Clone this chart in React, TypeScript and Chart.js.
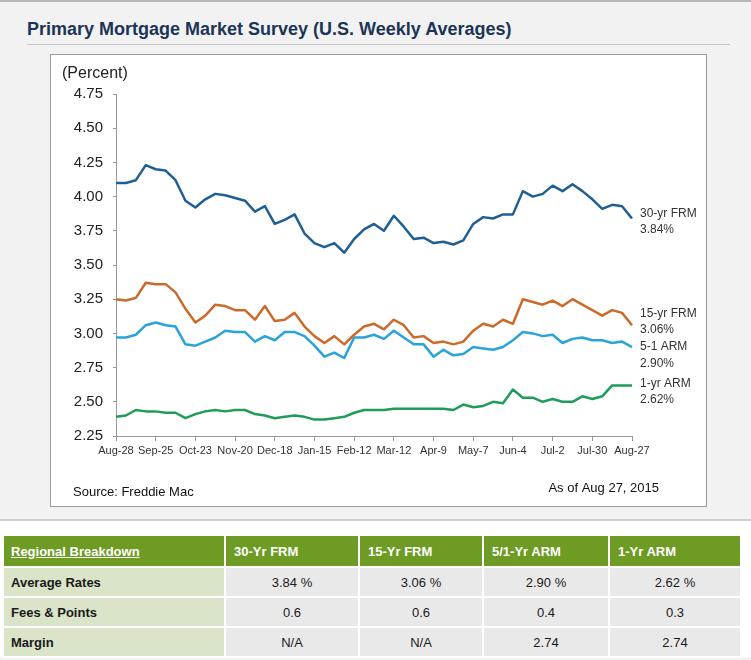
import React, { useEffect, useRef } from "react";
import { Chart, registerables } from "chart.js";

Chart.register(...registerables);

// ---- data ----
const weeks = [
  "Aug-28", "Sep-4", "Sep-11", "Sep-18", "Sep-25", "Oct-2", "Oct-9", "Oct-16", "Oct-23", "Oct-30",
  "Nov-6", "Nov-13", "Nov-20", "Nov-26", "Dec-4", "Dec-11", "Dec-18", "Dec-24", "Dec-31", "Jan-8",
  "Jan-15", "Jan-22", "Jan-29", "Feb-5", "Feb-12", "Feb-19", "Feb-26", "Mar-5", "Mar-12", "Mar-19",
  "Mar-26", "Apr-2", "Apr-9", "Apr-16", "Apr-23", "Apr-30", "May-7", "May-14", "May-21", "May-28",
  "Jun-4", "Jun-11", "Jun-18", "Jun-25", "Jul-2", "Jul-9", "Jul-16", "Jul-23", "Jul-30", "Aug-6",
  "Aug-13", "Aug-20", "Aug-27",
];
const labelEvery = 4;

const frm30 = [
  4.10, 4.10, 4.12, 4.23, 4.20, 4.19, 4.12, 3.97, 3.92, 3.98,
  4.02, 4.01, 3.99, 3.97, 3.89, 3.93, 3.80, 3.83, 3.87, 3.73,
  3.66, 3.63, 3.66, 3.59, 3.69, 3.76, 3.80, 3.75, 3.86, 3.78,
  3.69, 3.70, 3.66, 3.67, 3.65, 3.68, 3.80, 3.85, 3.84, 3.87,
  3.87, 4.04, 4.00, 4.02, 4.08, 4.04, 4.09, 4.04, 3.98, 3.91,
  3.94, 3.93, 3.84,
];
const frm15 = [
  3.25, 3.24, 3.26, 3.37, 3.36, 3.36, 3.30, 3.18, 3.08, 3.13,
  3.21, 3.20, 3.17, 3.17, 3.10, 3.20, 3.09, 3.10, 3.15, 3.05,
  2.98, 2.93, 2.98, 2.92, 2.99, 3.05, 3.07, 3.03, 3.10, 3.06,
  2.97, 2.98, 2.93, 2.94, 2.92, 2.94, 3.02, 3.07, 3.05, 3.10,
  3.07, 3.25, 3.23, 3.21, 3.24, 3.20, 3.25, 3.21, 3.17, 3.13,
  3.17, 3.15, 3.06,
];
const arm51 = [
  2.97, 2.97, 2.99, 3.06, 3.08, 3.06, 3.05, 2.92, 2.91, 2.94,
  2.97, 3.02, 3.01, 3.01, 2.94, 2.98, 2.95, 3.01, 3.01, 2.98,
  2.91, 2.83, 2.86, 2.82, 2.97, 2.97, 2.99, 2.96, 3.02, 2.97,
  2.92, 2.92, 2.83, 2.88, 2.84, 2.85, 2.90, 2.89, 2.88, 2.90,
  2.95, 3.01, 3.00, 2.98, 2.99, 2.93, 2.96, 2.97, 2.95, 2.95,
  2.93, 2.94, 2.90,
];
const arm1 = [
  2.39, 2.40, 2.44, 2.43, 2.43, 2.42, 2.42, 2.38, 2.41, 2.43,
  2.44, 2.43, 2.44, 2.44, 2.41, 2.40, 2.38, 2.39, 2.40, 2.39,
  2.37, 2.37, 2.38, 2.39, 2.42, 2.44, 2.44, 2.44, 2.45, 2.45,
  2.45, 2.45, 2.45, 2.45, 2.44, 2.48, 2.46, 2.47, 2.50, 2.49,
  2.59, 2.53, 2.53, 2.50, 2.52, 2.50, 2.50, 2.54, 2.52, 2.54,
  2.62, 2.62, 2.62,
];

const seriesNames = ["30-yr FRM", "15-yr FRM", "5-1 ARM", "1-yr ARM"];
const seriesValues = [frm30, frm15, arm51, arm1];
const seriesColors = ["#1f5f94", "#cc6a2a", "#2aa2da", "#1f9c57"];
const endLabelShift = [-5, -12, 0, -2];

const yMin = 2.25;
const yMax = 4.75;
const yStep = 0.25;

const titleText = "Primary Mortgage Market Survey (U.S. Weekly Averages)";
const unitText = "(Percent)";
const sourceText = "Source: Freddie Mac";
const asOfText = "As of Aug 27, 2015";

const tableHeaders = ["Regional Breakdown", "30-Yr FRM", "15-Yr FRM", "5/1-Yr ARM", "1-Yr ARM"];
const tableRows = [
  ["Average Rates", "3.84 %", "3.06 %", "2.90 %", "2.62 %"],
  ["Fees & Points", "0.6", "0.6", "0.4", "0.3"],
  ["Margin", "N/A", "N/A", "2.74", "2.74"],
];
const tableColWidths = [220, 132, 122, 124, 130];

const FONT = '"Liberation Sans", Arial, Helvetica, sans-serif';

const textPlugin = {
  id: "chartTexts",
  afterDraw(chart: any) {
    const ctx = chart.ctx;
    const area = chart.chartArea;
    const ys = chart.scales.y;
    ctx.save();
    ctx.textBaseline = "middle";
    ctx.textAlign = "left";
    ctx.fillStyle = "#222";
    ctx.font = `16px ${FONT}`;
    ctx.fillText(unitText, 11, 19);

    ctx.font = `13px ${FONT}`;
    ctx.fillStyle = "#111";
    ctx.fillText(sourceText, 22, 437);
    ctx.textAlign = "right";
    ctx.fillText(asOfText, 608, 433);

    ctx.textAlign = "left";
    ctx.font = `12px ${FONT}`;
    ctx.fillStyle = "#333";
    seriesValues.forEach((vals, i) => {
      const last = vals[vals.length - 1];
      const py = ys.getPixelForValue(last) + endLabelShift[i];
      ctx.fillText(seriesNames[i], area.right + 8, py);
      ctx.fillText(last.toFixed(2) + "%", area.right + 8, py + 16.5);
    });
    ctx.restore();
  },
};

function MortgageChart() {
  const ref = useRef<HTMLCanvasElement | null>(null);
  useEffect(() => {
    if (!ref.current) return;
    const chart = new Chart(ref.current, {
      type: "line",
      data: {
        labels: weeks,
        datasets: seriesValues.map((vals, i) => ({
          label: seriesNames[i],
          data: vals,
          borderColor: seriesColors[i],
          backgroundColor: seriesColors[i],
          borderWidth: 2.5,
          pointRadius: 0,
          tension: 0,
          borderJoinStyle: "round" as const,
          fill: false,
        })),
      },
      options: {
        responsive: false,
        animation: false,
        devicePixelRatio: 1,
        layout: { padding: { top: 39, right: 74, left: 0, bottom: 0 } },
        plugins: { legend: { display: false }, tooltip: { enabled: false }, title: { display: false } },
        scales: {
          x: {
            type: "category",
            offset: false,
            afterBuildTicks: (s: any) => {
              s.ticks = s.ticks.filter((t: any) => t.value % labelEvery === 0);
            },
            afterFit: (s: any) => {
              s.height = 70;
            },
            ticks: {
              autoSkip: false,
              maxRotation: 0,
              minRotation: 0,
              padding: 3,
              color: "#333",
              font: { family: FONT, size: 11 },
            },
            grid: { drawOnChartArea: false, drawTicks: true, tickLength: 5, color: "#999", offset: false },
            border: { display: true, color: "#999", width: 1 },
          },
          y: {
            min: yMin,
            max: yMax,
            afterFit: (s: any) => {
              s.width = 65;
            },
            ticks: {
              stepSize: yStep,
              padding: 10,
              color: "#222",
              font: { family: FONT, size: 15 },
              callback: (v: any) => Number(v).toFixed(2),
            },
            grid: { drawOnChartArea: false, drawTicks: true, tickLength: 3, color: "#999" },
            border: { display: true, color: "#999", width: 1 },
          },
        },
      },
      plugins: [textPlugin],
    } as any);
    return () => chart.destroy();
  }, []);
  return <canvas ref={ref} width={655} height={451} style={{ display: "block", width: 655, height: 451 }} />;
}

export default function App() {
  return (
    <div
      style={{
        position: "absolute",
        left: 0,
        top: 0,
        width: 751,
        height: 660,
        background: "#f2f2f2",
        fontFamily: FONT,
        overflow: "hidden",
      }}
    >
      <div style={{ position: "absolute", left: 0, top: 0, width: 751, height: 2, background: "#b8b8b8" }} />
      <div
        style={{
          position: "absolute",
          left: 27,
          top: 18,
          fontSize: 18,
          lineHeight: "22px",
          fontWeight: "bold",
          color: "#1c3557",
          whiteSpace: "nowrap",
        }}
      >
        {titleText}
      </div>
      <div style={{ position: "absolute", left: 27, top: 44, width: 703, height: 1, background: "#c8c8c8" }} />
      <div
        style={{
          position: "absolute",
          left: 50,
          top: 54,
          width: 657,
          height: 453,
          boxSizing: "border-box",
          border: "1px solid #9a9a9a",
          background: "#fff",
        }}
      >
        <MortgageChart />
      </div>
      <div
        style={{
          position: "absolute",
          left: 0,
          top: 519,
          width: 751,
          height: 138,
          background: "#fff",
          borderTop: "2px solid #cfcfcf",
          boxSizing: "border-box",
        }}
      />
      <table
        style={{
          position: "absolute",
          left: 2,
          top: 534,
          borderCollapse: "separate",
          borderSpacing: 2,
          tableLayout: "fixed",
          background: "#fff",
          fontSize: 13,
          fontFamily: FONT,
        }}
      >
        <colgroup>
          {tableColWidths.map((w, i) => (
            <col key={i} style={{ width: w }} />
          ))}
        </colgroup>
        <thead>
          <tr style={{ height: 30 }}>
            {tableHeaders.map((h, i) => (
              <th
                key={i}
                style={{
                  background: "#6e9b24",
                  color: "#fff",
                  fontWeight: "bold",
                  textAlign: "left",
                  padding: i === 0 ? "0 0 0 7px" : "0 0 0 8px",
                  textDecoration: i === 0 ? "underline" : "none",
                  verticalAlign: "middle",
                  whiteSpace: "nowrap",
                }}
              >
                {h}
              </th>
            ))}
          </tr>
        </thead>
        <tbody>
          {tableRows.map((row, r) => (
            <tr key={r} style={{ height: 28 }}>
              {row.map((c, i) => (
                <td
                  key={i}
                  style={{
                    background: i === 0 ? "#d9e4c8" : "#e9e9e9",
                    color: "#1a1a1a",
                    fontWeight: i === 0 ? "bold" : "normal",
                    textAlign: i === 0 ? "left" : "center",
                    padding: i === 0 ? "0 0 0 7px" : 0,
                    verticalAlign: "middle",
                    whiteSpace: "nowrap",
                  }}
                >
                  {c}
                </td>
              ))}
            </tr>
          ))}
        </tbody>
      </table>
    </div>
  );
}
